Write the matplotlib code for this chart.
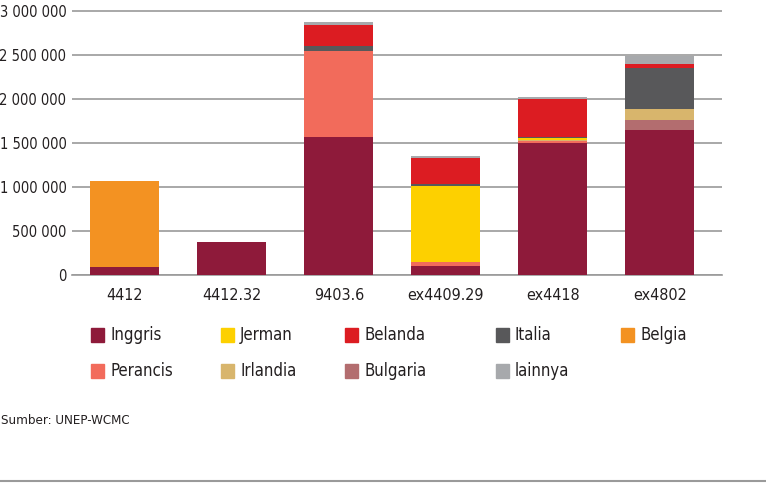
import numpy as np
import matplotlib.pyplot as plt
from matplotlib.patches import Rectangle
from matplotlib.ticker import FuncFormatter

plt.rcParams['font.family'] = ['DejaVu Sans']
plt.rcParams['font.stretch'] = 'condensed'

# Data
categories = ['4412', '4412.32', '9403.6', 'ex4409.29', 'ex4418', 'ex4802']
series = ['Inggris', 'Perancis', 'Bulgaria', 'Irlandia', 'Jerman', 'Belgia',
          'Italia', 'Belanda', 'lainnya']
inggris = [95000, 375000, 1573000, 109000, 1505000, 1649000]
perancis = [0, 0, 973000, 42000, 20000, 0]
bulgaria = [0, 0, 0, 0, 0, 114000]
irlandia = [0, 0, 0, 0, 12000, 125000]
jerman = [0, 0, 0, 866000, 25000, 0]
belgia = [972000, 0, 0, 0, 0, 0]
italia = [0, 0, 53000, 20000, 11000, 469000]
belanda = [0, 0, 242000, 290000, 428000, 38000]
lainnya = [0, 0, 34000, 30000, 22000, 98000]
values = [inggris, perancis, bulgaria, irlandia, jerman, belgia,
          italia, belanda, lainnya]

colors = {
    'Inggris': '#8E1A3A', 'Jerman': '#FDD000', 'Belanda': '#DC1C22',
    'Italia': '#58585A', 'Belgia': '#F39222', 'Perancis': '#F26B5B',
    'Irlandia': '#D8B56C', 'Bulgaria': '#B36D6F', 'lainnya': '#A7A9AC',
}

legend_rows = [['Inggris', 'Jerman', 'Belanda', 'Italia', 'Belgia'],
               ['Perancis', 'Irlandia', 'Bulgaria', 'lainnya']]
legend_x = [92, 222, 346, 497, 622]

fig = plt.figure(figsize=(7.66, 4.86), dpi=100)
W, H = 766, 486
ax = fig.add_axes([72 / W, (H - 275.3) / H, 650 / W, 270.3 / H])

x = np.arange(len(categories))
bottom = np.zeros(len(categories))
for name, vals in zip(series, values):
    vals = np.array(vals, dtype=float)
    ax.bar(x, vals, width=0.645, bottom=bottom, color=colors[name],
           edgecolor='none', zorder=3)
    bottom += vals

ax.set_xlim(-0.495, 5.58)
ax.set_ylim(0, 3.068e6)
ax.set_yticks(np.arange(0, 3000001, 500000))
ax.yaxis.set_major_formatter(FuncFormatter(lambda v, p: f'{int(v):,}'.replace(',', ' ')))
ax.grid(axis='y', color='#9a9a9a', linewidth=1.2, zorder=0)
ax.set_xticks(x)
ax.set_xticklabels(categories)
ax.tick_params(axis='x', length=0, labelsize=11.5, colors='#231F20', pad=9)
ax.tick_params(axis='y', length=0, labelsize=10.5, colors='#231F20', pad=4)
for s in ['top', 'right', 'left']:
    ax.spines[s].set_visible(False)
ax.spines['bottom'].set_color('#9a9a9a')
ax.spines['bottom'].set_linewidth(1.2)

# legend drawn by hand to match spacing
row_y = [335, 371]
for r, row in enumerate(legend_rows):
    for c, name in enumerate(row):
        x0 = legend_x[c]
        y0 = row_y[r]
        fig.add_artist(Rectangle(((x0 - 1) / W, (H - y0 - 7) / H), 13 / W, 14 / H,
                                 transform=fig.transFigure, color=colors[name]))
        fig.text((x0 + 18) / W, (H - y0) / H, name, fontsize=12,
                 va='center', ha='left', color='#231F20')

fig.text(1 / W, (H - 420) / H, 'Sumber: UNEP-WCMC', fontsize=9.5,
         va='center', ha='left', color='#231F20')
fig.add_artist(plt.Line2D([0, 1], [(H - 481) / H] * 2, transform=fig.transFigure,
                          color='#9a9a9a', linewidth=1.5))

fig.savefig('out.png', dpi=100)
